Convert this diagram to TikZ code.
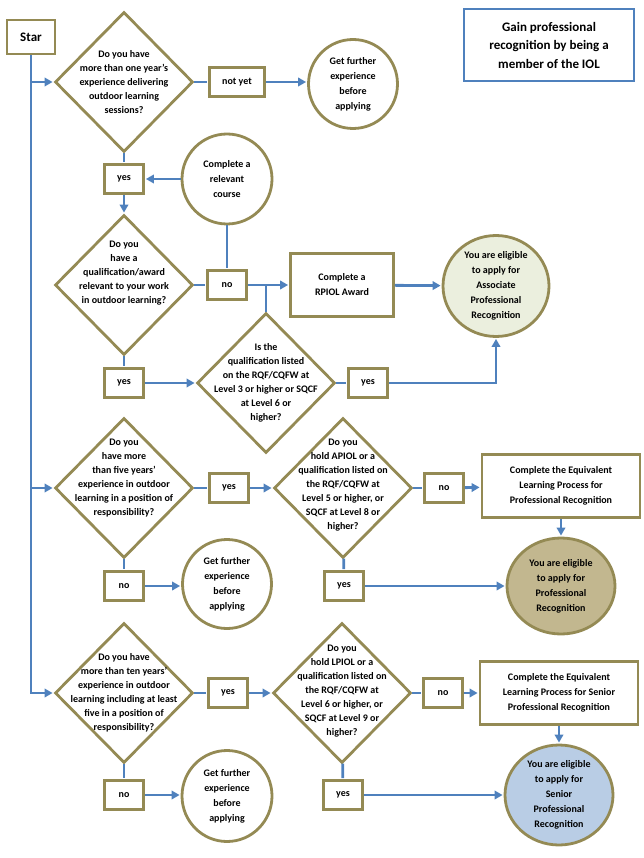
\documentclass[tikz,border=0pt]{standalone}
\usepackage{fontspec}
\setmainfont{Carlito}
\usepackage{tikz}
\usetikzlibrary{arrows.meta,shapes.geometric}
\definecolor{flowblue}{RGB}{79,129,189}
\definecolor{rim}{RGB}{148,138,84}
\definecolor{assocfill}{RGB}{235,239,222}
\definecolor{proffill}{RGB}{194,183,143}
\definecolor{seniorfill}{RGB}{185,205,229}

\begin{document}
\begin{tikzpicture}
[->,>={Triangle[length=8pt,width=8.5pt]},shorten >=1pt,x=1pt,y=-1pt,line width=2.8pt,
quest/.style={diamond,draw=rim,inner sep=0pt,minimum width=138pt,minimum height=140pt},
qtext/.style={align=center,font=\bfseries\fontsize{10}{14}\selectfont},
answer/.style={rectangle,draw=rim,inner sep=2pt,minimum width=39pt,minimum height=29pt,font=\bfseries\fontsize{10}{14}\selectfont},
task/.style={rectangle,draw=rim,minimum height=63pt,align=center,font=\bfseries\fontsize{10}{15}\selectfont},
outcome/.style={ellipse,draw=rim,inner sep=0pt,align=center,font=\bfseries\fontsize{10}{15}\selectfont}]
\useasboundingbox (0,0) rectangle (643,858);
\node[rectangle,draw=rim,minimum width=48pt,minimum height=34pt,font=\bfseries\fontsize{13}{16}\selectfont] (star) at (31,37) {Star};
\node[rectangle,draw=flowblue,minimum width=170pt,minimum height=72pt,align=center,font=\bfseries\fontsize{13}{18.5}\selectfont] (title) at (549,45) {Gain professional\\recognition by being a\\member of the IOL};
\node[quest,label={[qtext]center:{Do you have\\more than one year’s\\experience delivering\\outdoor learning\\sessions?}}] (q1) at (124,82) {};
\node[answer,minimum width=55pt] (notyet) at (237,82) {not yet};
\node[outcome,minimum width=89pt,minimum height=89pt] (wait1) at (353,84) {Get further\\experience\\before\\applying};
\node[answer] (yes1) at (124,179) {yes};
\node[outcome,minimum width=90pt,minimum height=90pt] (course) at (227,179) {Complete a\\relevant\\course};
\node[quest,label={[qtext,yshift=12pt]center:{Do you\\have a\\qualification/award\\relevant to your work\\in outdoor learning?}}] (q2) at (124,285) {};
\node[answer] (no2) at (227,285) {no};
\node[task,minimum width=103pt] (rpiol) at (342,285) {Complete a\\RPIOL Award};
\node[outcome,fill=assocfill,minimum width=106pt,minimum height=101pt] (assoc) at (496,286) {You are eligible\\to apply for\\Associate\\Professional\\Recognition};
\node[answer] (yes2) at (124,383) {yes};
\node[quest,label={[qtext]center:{Is the\\qualification listed\\on the RQF/CQFW at\\Level 3 or higher or SQCF\\at Level 6 or\\higher?}}] (q3) at (266,383) {};
\node[answer] (yes3) at (368,383) {yes};
\node[quest,label={[qtext,yshift=10pt]center:{Do you\\have more\\than five years’\\experience in outdoor\\learning in a position of\\responsibility?}}] (q4) at (124,488) {};
\node[answer] (yes4) at (229,488) {yes};
\node[quest,label={[qtext,yshift=3pt]center:{Do you\\hold APIOL or a\\qualification listed on\\the RQF/CQFW at\\Level 5 or higher, or\\SQCF at Level 8 or\\higher?}}] (q5) at (343,488) {};
\node[answer] (no5) at (444,488) {no};
\node[task,minimum width=158pt] (equiv1) at (561,486) {Complete the Equivalent\\Learning Process for\\Professional Recognition};
\node[outcome,fill=proffill,minimum width=108pt,minimum height=96pt] (prof) at (561,586) {You are eligible\\to apply for\\Professional\\Recognition};
\node[answer] (no4) at (124,586) {no};
\node[outcome,minimum width=89pt,minimum height=89pt] (wait2) at (227,584) {Get further\\experience\\before\\applying};
\node[answer] (yes5) at (344,586) {yes};
\node[quest,label={[qtext]center:{Do you have\\more than ten years’\\experience in outdoor\\learning including at least\\five in a position of\\responsibility?}}] (q6) at (124,693) {};
\node[answer] (yes6) at (228,693) {yes};
\node[quest,label={[qtext,yshift=2pt]center:{Do you\\hold LPIOL or a\\qualification listed on\\the RQF/CQFW at\\Level 6 or higher, or\\SQCF at Level 9 or\\higher?}}] (q7) at (342,693) {};
\node[answer] (no7) at (443,693) {no};
\node[task,minimum width=158pt] (equiv2) at (559,693) {Complete the Equivalent\\Learning Process for Senior\\Professional Recognition};
\node[outcome,fill=seniorfill,minimum width=108pt,minimum height=100pt] (senior) at (559,795) {You are eligible\\to apply for\\Senior\\Professional\\Recognition};
\node[answer] (no6) at (124,795) {no};
\node[outcome,minimum width=90pt,minimum height=91pt] (wait3) at (227,796) {Get further\\experience\\before\\applying};
\node[answer] (yes7) at (343,795) {yes};
\begin{scope}[flowblue]
\draw (star) |- (q6);
\draw (star.south |- q1) -- (q1);
\draw (star.south |- q4) -- (q4);
\draw[-] (q1) -- (notyet);
\draw (notyet) -- (notyet -| wait1.west);
\draw[-] (q1) -- (yes1);
\draw (yes1) -- (q2);
\draw (course) -- (yes1);
\draw[-] (q2) -- (no2);
\draw[-] (course) -- (no2);
\draw (no2) -- (rpiol);
\draw (rpiol) -- (assoc);
\draw[-] (q3) -- (q3 |- no2);
\draw[-] (q2) -- (yes2);
\draw (yes2) -- (q3);
\draw[-] (q3) -- (yes3);
\draw (yes3) -| (assoc);
\draw[-] (q4) -- (yes4);
\draw (yes4) -- (q5);
\draw[-] (q5) -- (no5);
\draw (no5) -- (equiv1);
\draw (equiv1) -- (prof);
\draw[-] (q4) -- (no4);
\draw (no4) -- (no4 -| wait2.west);
\draw[-] (q5) -- (yes5);
\draw (yes5) -- (prof);
\draw[-] (q6) -- (yes6);
\draw (yes6) -- (q7);
\draw[-] (q7) -- (no7);
\draw (no7) -- (equiv2);
\draw (equiv2) -- (senior);
\draw[-] (q6) -- (no6);
\draw (no6) -- (no6 -| wait3.west);
\draw[-] (q7) -- (yes7);
\draw (yes7) -- (senior);
\end{scope}
\end{tikzpicture}
\end{document}
